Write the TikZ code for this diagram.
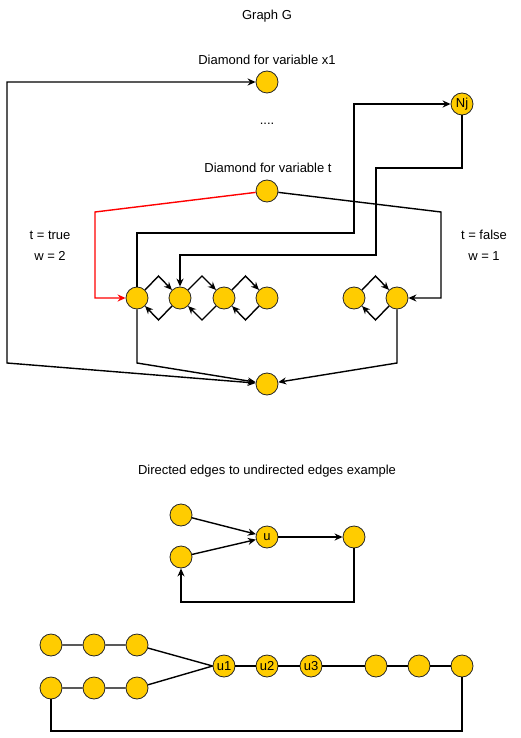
\documentclass[tikz,border=0pt]{standalone}
\usepackage{fontspec}
\setmainfont{Liberation Sans}
\usepackage{tikz}
\usetikzlibrary{positioning,arrows.meta,calc}
\definecolor{gold}{RGB}{255,204,0}

\tikzset{
  vert/.style={circle, draw=black!85, fill=gold, line width=0.8pt, minimum size=22pt, inner sep=0pt, font=\fontsize{13}{14}\selectfont},
  arr/.style={line width=1.4pt, -{Stealth[length=8pt,width=7pt]}},
  plain/.style={line width=1.4pt},
  txt/.style={font=\fontsize{13}{15}\selectfont}
}

\begin{document}
\begin{tikzpicture}[x=1pt, y=-1pt]
				\useasboundingbox (0, 0) rectangle (520, 738);
				% upper graph
				\node [txt] (title) at (267, 16) {Graph G};
				\node [txt] (lblx) at (267, 60) {Diamond for variable x1};
				\node [vert] (x1) at (267, 82) {};
				\node [txt] (dots) at (267, 124) {....};
				\node [txt] (lblt) at (268, 168) {Diamond for variable t};
				\node [vert] (t) at (267, 191) {};
				\node [vert] (Nj) at (462, 104) {Nj};
				\node [vert] (c1) at (137, 298) {};
				\node [vert] (c2) at (180, 298) {};
				\node [vert] (c3) at (224, 298) {};
				\node [vert] (c4) at (267, 298) {};
				\node [vert] (r1) at (354, 298) {};
				\node [vert] (r2) at (397, 298) {};
				\node [vert] (bot) at (267, 384) {};
				\node [txt] (tt) at (50, 235) {t = true};
				\node [txt] (w2) at (50, 256) {w = 2};
				\node [txt] (tf) at (484, 235) {t = false};
				\node [txt] (w1) at (484, 256) {w = 1};

				\foreach \a/\b in {c1/c2, c2/c3, c3/c4, r1/r2} {
					\draw [arr] (\a.45) -- ($(\a)!0.5!(\b)+(0, -22)$) -- (\b.135);
					\draw [arr] (\b.-135) -- ($(\a)!0.5!(\b)+(0, 22)$) -- (\a.-45);
				}

				\draw [arr, red] (t) -- (95, 212) |- (c1.west);
				\draw [arr] (t) -- (441, 212) |- (r2.east);
				\draw [arr] (c1.north) |- (354, 233) |- (Nj.west);
				\draw [arr] (Nj.south) |- (376, 168) -- (376, 255) -| (c2.north);
				\draw [arr] (c1.south) -- (137, 363) -- (bot);
				\draw [arr] (r2.south) -- (397, 363) -- (bot);
				\draw [line width=1.4pt, {Stealth[length=8pt,width=7pt]}-{Stealth[length=8pt,width=7pt]}] (bot) -- (7, 363) |- (x1.west);

				% directed example
				\node [txt] (lbld) at (267, 471) {Directed edges to undirected edges example};
				\node [vert] (a) at (181, 515) {};
				\node [vert] (b) at (181, 557) {};
				\node [vert] (u) at (267, 537) {u};
				\node [vert] (c) at (354, 537) {};
				\draw [arr] (a) -- (u);
				\draw [arr] (b) -- (u);
				\draw [arr] (u) -- (c);
				\draw [arr] (c.south) -- (354, 602) -| (b.south);

				% undirected example
				\node [vert] (p1) at (51, 645) {};
				\node [vert] (p2) at (94, 645) {};
				\node [vert] (p3) at (137, 645) {};
				\node [vert] (q1) at (51, 688) {};
				\node [vert] (q2) at (94, 688) {};
				\node [vert] (q3) at (137, 688) {};
				\node [vert] (u1) at (224, 666) {u1};
				\node [vert] (u2) at (267, 666) {u2};
				\node [vert] (u3) at (311, 666) {u3};
				\node [vert] (s1) at (376, 666) {};
				\node [vert] (s2) at (419, 666) {};
				\node [vert] (s3) at (462, 666) {};
				\draw [plain] (p1) -- (p2) -- (p3) -- (u1.west);
				\draw [plain] (q1) -- (q2) -- (q3) -- (u1.west);
				\draw [plain] (u1) -- (u2) -- (u3) -- (s1) -- (s2) -- (s3);
				\draw [plain] (q1.south) -- (51, 731) -| (s3.south);

			\end{tikzpicture}
\end{document}
